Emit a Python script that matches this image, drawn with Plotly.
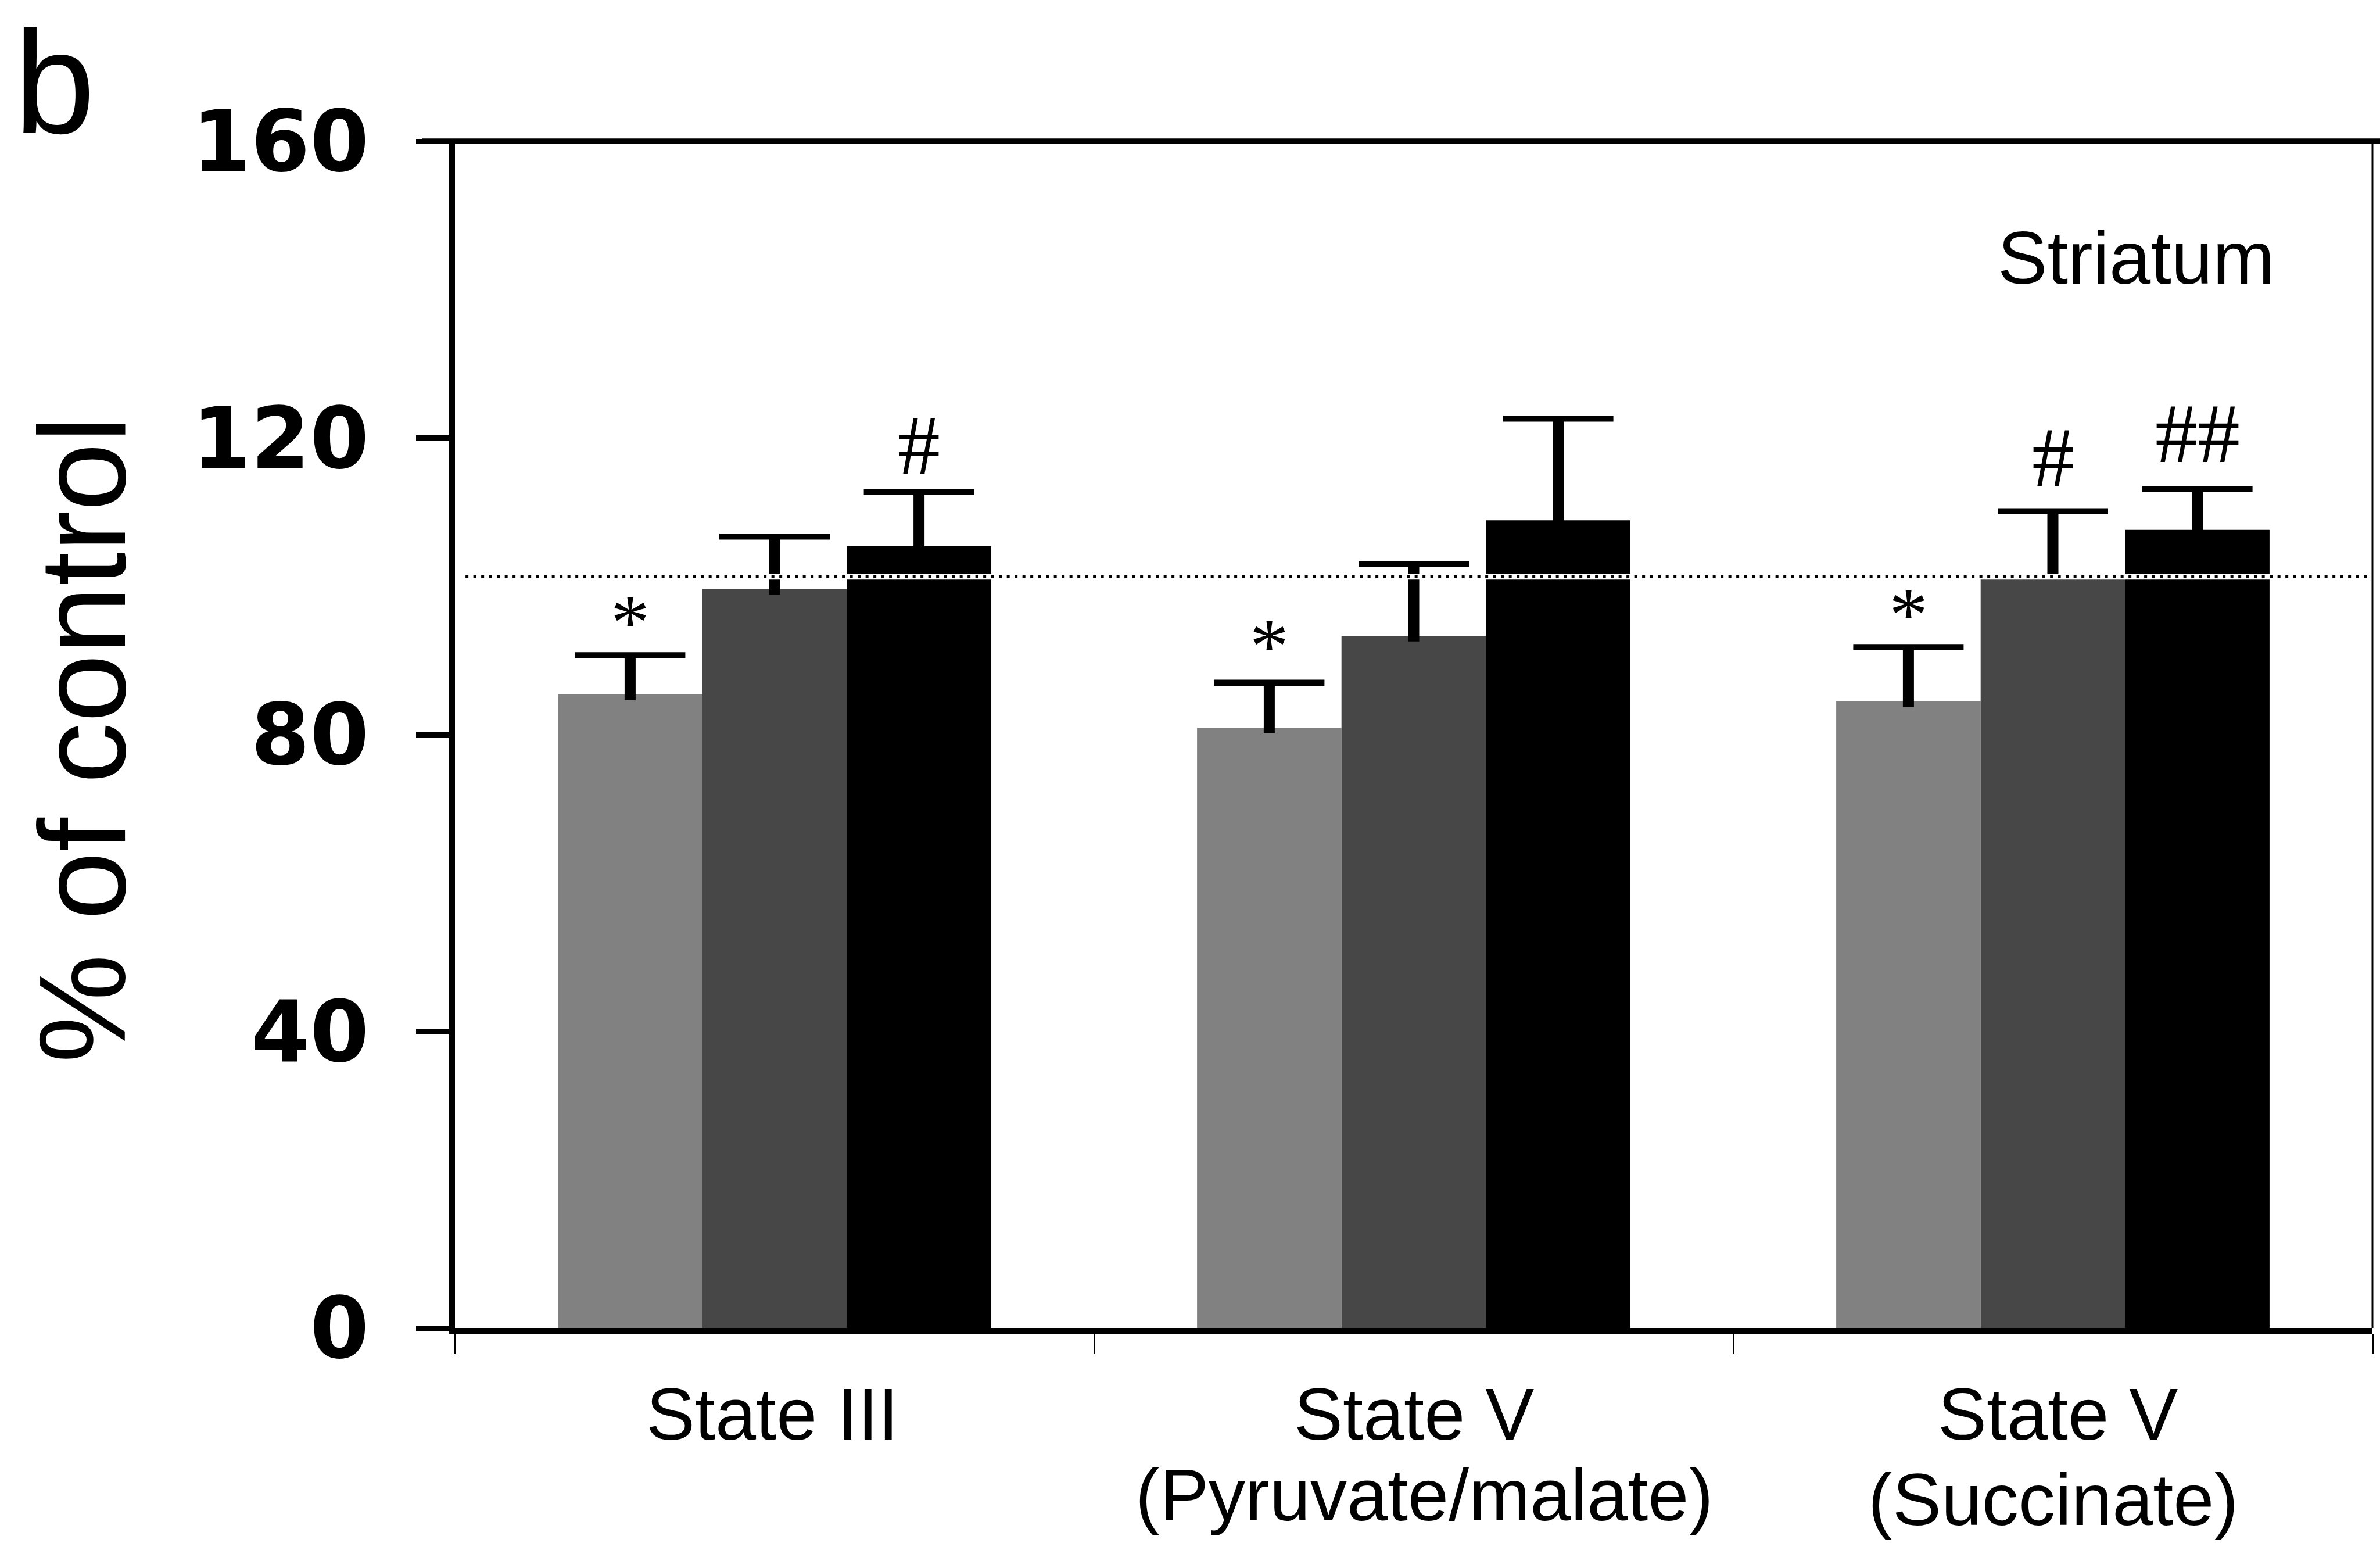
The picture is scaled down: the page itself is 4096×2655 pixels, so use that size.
import plotly.graph_objects as go

# ---------------- data ----------------
categories = ["State III", "State V (Pyruvate/malate)", "State V (Succinate)"]
cat_line1 = ["State III", "State V", "State V"]
cat_line2 = ["", "(Pyruvate/malate)", "(Succinate)"]

series_names = ["Group 1", "Group 2", "Group 3"]
series_values = [
    [85.4, 80.9, 84.5],
    [99.6, 93.3, 101.7],
    [105.4, 108.9, 107.6],
]
series_errors = [
    [5.3, 6.1, 7.3],
    [7.1, 9.7, 8.4],
    [7.3, 13.7, 5.5],
]
series_colors = ["#818181", "#474747", "#000000"]

control_level = 101.3

sig_cat = [0, 0, 1, 2, 2, 2]
sig_series = [0, 2, 0, 0, 1, 2]
sig_text = ["*", "#", "*", "*", "#", "##"]
sig_y = [96.4, 119.0, 93.2, 97.4, 117.4, 120.6]

y_ticks = [0, 40, 80, 120, 160]

# ---------------- figure ----------------
W, H = 4096, 2655
L, R, T, B = 783, 13, 243, 370
bargap = 0.322
barw = (1 - bargap) / 3

fig = go.Figure()
# visible bars with the error-bar stems
for i in range(3):
    fig.add_trace(go.Bar(
        x=categories, y=series_values[i], name=series_names[i],
        offsetgroup=str(i), marker=dict(color=series_colors[i], line=dict(width=0)),
        error_y=dict(type="data", symmetric=False, array=series_errors[i],
                     arrayminus=[0.75] * 3, width=0, thickness=19, color="black"),
        showlegend=False,
    ))
# transparent bars reaching the top of each error bar, carrying the caps
for i in range(3):
    tops = [v + e for v, e in zip(series_values[i], series_errors[i])]
    fig.add_trace(go.Bar(
        x=categories, y=tops, name=series_names[i] + " cap",
        offsetgroup=str(i), marker=dict(color="rgba(0,0,0,0)", line=dict(width=0)),
        error_y=dict(type="data", symmetric=True, array=[0] * 3,
                     width=95, thickness=10.5, color="black"),
        showlegend=False, hoverinfo="skip",
    ))

annotations = []
for c, s, t, yv in zip(sig_cat, sig_series, sig_text, sig_y):
    annotations.append(dict(
        x=c + (s - 1) * barw, y=yv, xref="x", yref="y", text=t, showarrow=False,
        xanchor="center", yanchor="middle", yshift=(-16 if t == "*" else 0),
        font=dict(family="Liberation Serif", size=(134 if t == "*" else 146), color="black"),
    ))

line1_shift = [-4, 0, 8]
line2_shift = [0, 18, 0]
line2_y = [0, -0.141, -0.1445]
for i in range(3):
    annotations.append(dict(
        x=i, y=-0.0725, xref="x", yref="paper", text=cat_line1[i], showarrow=False,
        xanchor="center", yanchor="middle", xshift=line1_shift[i],
        font=dict(family="Liberation Sans", size=126, color="black"),
    ))
    if cat_line2[i]:
        annotations.append(dict(
            x=i, y=line2_y[i], xref="x", yref="paper", text=cat_line2[i], showarrow=False,
            xanchor="center", yanchor="middle", xshift=line2_shift[i],
            font=dict(family="Liberation Sans", size=126, color="black"),
        ))

annotations.append(dict(
    x=0.8767, y=0.9016, xref="paper", yref="paper", text="Striatum", showarrow=False,
    xanchor="center", yanchor="middle",
    font=dict(family="Liberation Sans", size=128, color="black"),
))
annotations.append(dict(
    x=-0.2306, y=1 + T / 2042, xref="paper", yref="paper", text="b", showarrow=False,
    xanchor="left", yanchor="top",
    font=dict(family="Liberation Sans", size=251, color="black"),
))
annotations.append(dict(
    x=-0.1942, y=0.496, xref="paper", yref="paper", text="% of control", showarrow=False,
    xanchor="center", yanchor="middle", textangle=-90,
    font=dict(family="Liberation Sans", size=211, color="black"),
))

shapes = [
    dict(type="line", xref="paper", yref="y", x0=0.0055, x1=0.9973,
         y0=control_level, y1=control_level, layer="above",
         line=dict(color="white", width=10)),
    dict(type="line", xref="paper", yref="y", x0=0.0055, x1=0.9973,
         y0=control_level, y1=control_level, layer="above",
         line=dict(color="black", width=5, dash="5px,8.5px")),
    dict(type="line", xref="paper", yref="paper", x0=-0.017, x1=1.004, y0=1, y1=1,
         layer="above", line=dict(color="black", width=9.5)),
    dict(type="line", xref="paper", yref="paper", x0=1, x1=1, y0=0, y1=1,
         layer="above", line=dict(color="black", width=3)),
]

fig.update_layout(
    width=W, height=H,
    margin=dict(l=L, r=R, t=T, b=B, pad=0),
    paper_bgcolor="white", plot_bgcolor="white",
    barmode="group", bargap=bargap, bargroupgap=0,
    annotations=annotations, shapes=shapes,
    xaxis=dict(
        type="category", categoryorder="array", categoryarray=categories,
        range=[-0.5, 2.5], showticklabels=False, showgrid=False, zeroline=False,
        showline=True, linecolor="black", linewidth=11,
        ticks="outside", tickson="boundaries", ticklen=33, tickwidth=3, tickcolor="black",
    ),
    yaxis=dict(
        range=[0, 160], tickmode="array", tickvals=y_ticks, ticktext=[str(v) for v in y_ticks],
        showgrid=False, zeroline=False,
        showline=True, linecolor="black", linewidth=9.5,
        ticks="outside", ticklen=57, tickwidth=8.5, tickcolor="black",
        ticklabelstandoff=52,
        tickfont=dict(family="DejaVu Sans", size=146, color="black", weight="bold"),
    ),
)

fig.write_html("out.html")
